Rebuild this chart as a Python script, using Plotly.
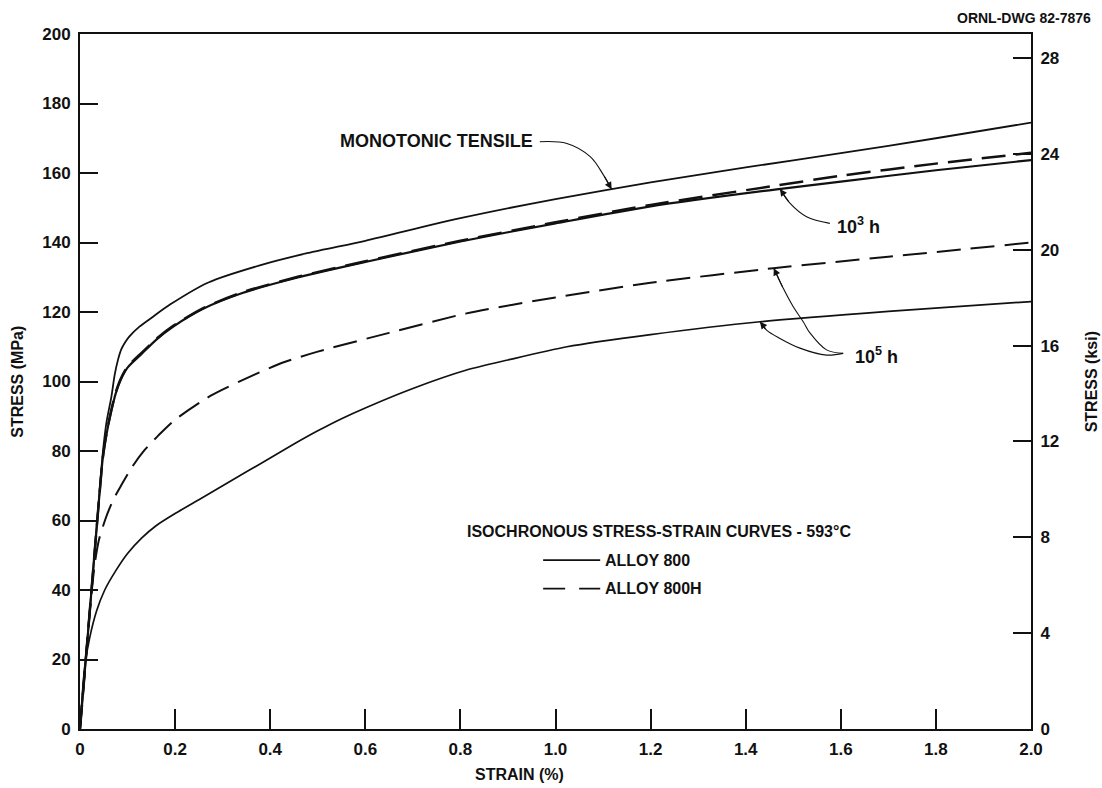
import numpy as np
import plotly.graph_objects as go

# ---- data: isochronous stress-strain curves, 593 C ----
MPA_PER_KSI = 6.895

strain_tensile = [0, 0.02, 0.04, 0.048, 0.056, 0.066, 0.073, 0.08, 0.087, 0.095, 0.104, 0.125,
                  0.15, 0.19, 0.27, 0.38, 0.48, 0.60, 0.80, 1.00, 1.20, 1.40, 1.60, 1.80, 2.00]
stress_tensile = [0, 33, 66.5, 79.5, 88.5, 95.6, 102, 106.3, 109.3, 111.3, 113, 115.8,
                  118.3, 122.2, 128.5, 133.5, 137, 140.5, 147, 152.5, 157.3, 161.6, 165.7, 170, 174.5]

strain_1e3 = [0, 0.02, 0.04, 0.048, 0.056, 0.065, 0.075, 0.085, 0.10, 0.13, 0.16, 0.196, 0.26,
              0.34, 0.46, 0.60, 0.80, 1.00, 1.20, 1.465, 1.60, 1.80, 2.00]
stress_1e3_800 = [0, 33, 66, 78, 85, 91, 96.5, 100.3, 104, 108, 112, 115.8, 121,
                  125.4, 130, 134.4, 140.3, 145.5, 150.4, 155.3, 157.5, 160.8, 163.7]
stress_1e3_800h = [0, 33, 66, 78, 85.2, 91.3, 96.8, 100.6, 104.3, 108.3, 112.2, 116, 121.2,
                   125.6, 130.2, 134.6, 140.5, 145.8, 150.8, 156.4, 159.2, 162.7, 165.8]

strain_1e5_800h = [0, 0.02, 0.026, 0.031, 0.04, 0.055, 0.07, 0.087, 0.11, 0.136, 0.165, 0.20,
                   0.276, 0.367, 0.43, 0.50, 0.65, 0.813, 1.00, 1.20, 1.458, 1.70, 2.00]
stress_1e5_800h = [0, 33, 41.5, 47.5, 54.5, 61, 66, 70.2, 75.5, 80.3, 84.5, 89,
                   96, 102.0, 105.6, 108.6, 114, 119.6, 124.2, 128.4, 132.6, 135.9, 140]

strain_1e5_800 = [0, 0.01, 0.02, 0.035, 0.052, 0.075, 0.10, 0.13, 0.16, 0.20, 0.25, 0.30,
                  0.35, 0.40, 0.45, 0.50, 0.55, 0.60, 0.70, 0.813, 0.90, 1.024, 1.20,
                  1.43, 1.70, 2.00]
stress_1e5_800 = [0, 18, 26, 34, 40, 45.5, 50.5, 55, 58.5, 62, 66, 70,
                  74, 78, 82.0, 85.8, 89.3, 92.4, 98, 103.3, 106.2, 110, 113.5,
                  117.2, 120.2, 123]

x_tickvals = [0, 0.2, 0.4, 0.6, 0.8, 1.0, 1.2, 1.4, 1.6, 1.8, 2.0]
x_ticktext = ["0", "0.2", "0.4", "0.6", "0.8", "1.0", "1.2", "1.4", "1.6", "1.8", "2.0"]
mpa_ticks = list(range(0, 201, 20))
ksi_ticks = list(range(0, 29, 4))

INK = "#111111"
FONT = "Liberation Sans"
DASH = "24px,10px"

fig = go.Figure()


def curve(x, y, dash="solid", width=1.6):
    fig.add_trace(go.Scatter(
        x=x, y=y, mode="lines",
        line=dict(color=INK, width=width, dash=dash, shape="spline", smoothing=0.7),
        hoverinfo="skip", showlegend=False))


curve(strain_tensile, stress_tensile, width=1.8)
curve(strain_1e3, stress_1e3_800, width=2.2)
curve(strain_1e3, stress_1e3_800h, dash=DASH, width=2.5)
curve(strain_1e5_800h, stress_1e5_800h, dash=DASH, width=2.0)
curve(strain_1e5_800, stress_1e5_800, width=1.7)

# invisible trace so the ksi axis is drawn
fig.add_trace(go.Scatter(x=[0, 2], y=[0, 0], yaxis="y2", mode="lines",
                         line=dict(width=0), hoverinfo="skip", showlegend=False))


def leader(pts_x, pts_y, tip_x, curve_x, curve_y):
    """Curved leader from a label to a curve, ending in an arrowhead on the curve."""
    tip_y = float(np.interp(tip_x, curve_x, curve_y))
    fig.add_trace(go.Scatter(
        x=list(pts_x) + [tip_x], y=list(pts_y) + [tip_y], mode="lines",
        line=dict(color=INK, width=1.1, shape="spline", smoothing=1.0),
        hoverinfo="skip", showlegend=False))
    fig.add_annotation(x=tip_x, y=tip_y, ax=pts_x[-1], ay=pts_y[-1],
                       xref="x", yref="y", axref="x", ayref="y",
                       text="", showarrow=True, arrowhead=2, arrowsize=1.3,
                       arrowwidth=1.1, arrowcolor=INK)


leader([0.967, 1.024, 1.073, 1.101], [169.0, 168.5, 164.7, 159.4], 1.118,
       strain_tensile, stress_tensile)
leader([1.577, 1.528, 1.493], [145.5, 147.4, 151.3], 1.472,
       strain_1e3, stress_1e3_800)
leader([1.605, 1.570, 1.535, 1.521, 1.500, 1.479], [108.1, 109.1, 114.0, 117.2, 121.5, 126.8],
       1.459, strain_1e5_800h, stress_1e5_800h)
leader([1.605, 1.570, 1.514, 1.472, 1.444], [108.1, 107.6, 109.6, 112.4, 114.8],
       1.43, strain_1e5_800, stress_1e5_800)

label_font = dict(family=FONT, size=18, color=INK, weight="bold")
fig.add_annotation(x=0.957, y=169.2, text="MONOTONIC TENSILE", showarrow=False,
                   xanchor="right", yanchor="middle", font=label_font)
fig.add_annotation(x=1.588, y=145.0, text="10<sup>3</sup> h", showarrow=False,
                   xanchor="left", yanchor="middle", font=label_font)
fig.add_annotation(x=1.626, y=107.6, text="10<sup>5</sup> h", showarrow=False,
                   xanchor="left", yanchor="middle", font=label_font)

# key block
key_font = dict(family=FONT, size=16, color=INK, weight="bold")
fig.add_annotation(x=0.81, y=56.8, text="ISOCHRONOUS STRESS-STRAIN CURVES - 593°C",
                   showarrow=False, xanchor="left", yanchor="middle", font=key_font)
fig.add_trace(go.Scatter(x=[0.974, 1.094], y=[48.6, 48.6], mode="lines",
                         line=dict(color=INK, width=1.7), hoverinfo="skip", showlegend=False))
fig.add_trace(go.Scatter(x=[0.974, 1.094], y=[40.4, 40.4], mode="lines",
                         line=dict(color=INK, width=1.9, dash="22px,14px"),
                         hoverinfo="skip", showlegend=False))
fig.add_annotation(x=1.10, y=48.6, text="ALLOY 800", showarrow=False,
                   xanchor="left", yanchor="middle", font=key_font)
fig.add_annotation(x=1.10, y=40.4, text="ALLOY 800H", showarrow=False,
                   xanchor="left", yanchor="middle", font=key_font)

# titles
title_font = dict(family=FONT, size=16, color=INK, weight="bold")
fig.add_annotation(x=0.925, y=-0.066, xref="x", yref="paper", text="STRAIN (%)",
                   showarrow=False, xanchor="center", yanchor="middle", font=title_font)
fig.add_annotation(x=-0.066, y=0.5, xref="paper", yref="paper", text="STRESS (MPa)",
                   showarrow=False, textangle=-90, xanchor="center", yanchor="middle",
                   font=title_font)
fig.add_annotation(x=1.064, y=0.5, xref="paper", yref="paper", text="STRESS (ksi)",
                   showarrow=False, textangle=-90, xanchor="center", yanchor="middle",
                   font=title_font)
fig.add_annotation(x=1.0656, y=1.0, xref="paper", yref="paper", text="ORNL-DWG 82-7876",
                   showarrow=False, xanchor="right", yanchor="bottom", yshift=6,
                   font=dict(family=FONT, size=14, color=INK, weight="bold"))

tick_font = dict(family=FONT, size=17, color=INK, weight="bold")
axis_common = dict(showgrid=False, zeroline=False, showline=True, linecolor=INK,
                   linewidth=2, ticks="inside", tickwidth=1.5,
                   tickcolor=INK, tickfont=tick_font)

fig.update_layout(
    width=1102, height=788,
    margin=dict(l=80, r=71, t=34, b=59),
    paper_bgcolor="white", plot_bgcolor="white",
    xaxis=dict(range=[0, 2], tickvals=x_tickvals, ticktext=x_ticktext, mirror=True,
               ticklen=20, ticklabelstandoff=4, **axis_common),
    yaxis=dict(range=[0, 200], tickvals=mpa_ticks, ticklen=18, ticklabelstandoff=4,
               **axis_common),
    yaxis2=dict(range=[0, 200 / MPA_PER_KSI], tickvals=ksi_ticks, overlaying="y",
                side="right", ticklen=18, ticklabelstandoff=4, **axis_common),
)

fig.write_html("out.html")
